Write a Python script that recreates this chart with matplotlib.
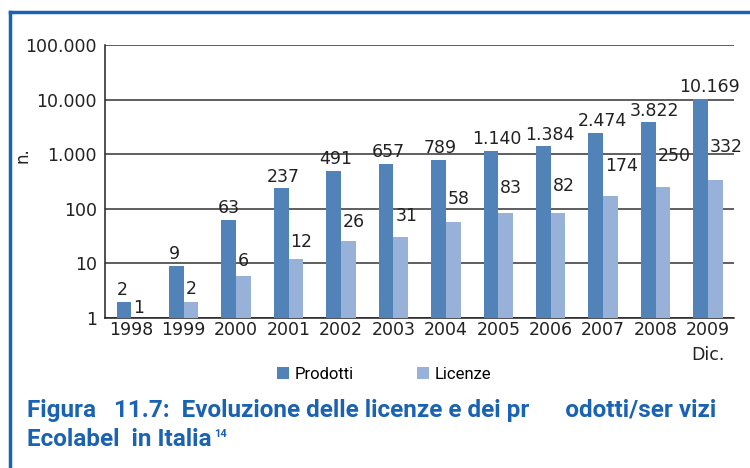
import matplotlib.pyplot as plt
import numpy as np
from matplotlib.lines import Line2D

years = ['1998', '1999', '2000', '2001', '2002', '2003', '2004', '2005',
         '2006', '2007', '2008', '2009\nDic.']
prodotti = [2, 9, 63, 237, 491, 657, 789, 1140, 1384, 2474, 3822, 10169]
licenze = [1, 2, 6, 12, 26, 31, 58, 83, 82, 174, 250, 332]
yticks = [1, 10, 100, 1000, 10000, 100000]
ytick_labels = ['1', '10', '100', '1.000', '10.000', '100.000']

dark = '#5183b8'
light = '#97b1d9'
blue = '#1a62b3'
txt = '#222222'

def fmt(v):
    return f'{v:,}'.replace(',', '.')

fig = plt.figure(figsize=(7.5, 4.68), dpi=100)
ax = fig.add_axes([0.14, 0.3205, 0.839, 0.5835])

x = np.arange(len(years))
w = 0.28
b1 = ax.bar(x - w / 2, prodotti, w, color=dark, zorder=3)
b2 = ax.bar(x + w / 2, licenze, w, color=light, zorder=3)

ax.set_yscale('log')
ax.set_ylim(1, 100000)
ax.set_xlim(-0.5, len(years) - 0.5)
ax.set_yticks(yticks)
ax.set_yticklabels(ytick_labels)
ax.minorticks_off()
ax.yaxis.grid(True, color='#333333', linewidth=1.1, zorder=0)
ax.set_xticks(x)
ax.set_xticklabels(years, linespacing=1.5)
ax.tick_params(axis='both', length=0, labelsize=12.5, colors=txt)
ax.tick_params(axis='x', pad=2)
ax.tick_params(axis='y', pad=6)
for s in ['top', 'right']:
    ax.spines[s].set_visible(False)
for s in ['left', 'bottom']:
    ax.spines[s].set_color(txt)
    ax.spines[s].set_linewidth(1.1)

# value labels: prodotti just above the bar, licenze left-aligned and lifted
for i, (rect, v) in enumerate(zip(b1, prodotti)):
    s = fmt(v)
    ax.annotate(s, (rect.get_x() + rect.get_width() / 2, v),
                xytext=(1.5 * (len(s) - 2), 2), textcoords='offset points',
                ha='center', va='bottom', fontsize=12.5, color=txt)
for i, (rect, v) in enumerate(zip(b2, licenze)):
    ax.annotate(fmt(v), (rect.get_x(), v),
                xytext=(1.5, 1 + 1.5 * i), textcoords='offset points',
                ha='left', va='bottom', fontsize=12.5, color=txt)

fig.text(0.03, 0.668, 'n.', rotation=90, fontsize=12, color=txt,
         ha='center', va='center')

fig.legend(handles=[b1, b2], labels=['Prodotti', 'Licenze'], loc='center',
           bbox_to_anchor=(0.512, 0.2), ncol=2, frameon=False,
           handlelength=0.75, handleheight=0.75, columnspacing=3.8,
           handletextpad=0.3, prop={'family': 'Roboto', 'size': 12})

# caption (justified in the original, hence the odd gaps)
tfont = dict(fontsize=17.5, fontweight='bold', color=blue,
             family=['Roboto', 'DejaVu Sans'], ha='left', va='baseline')
fig.text(27 / 750, 1 - 417 / 468,
         'Figura   11.7:  Evoluzione delle licenze e dei pr'
         '      odotti/ser vizi',
         **tfont)
t2 = fig.text(27 / 750, 1 - 446 / 468, 'Ecolabel  in Italia', **tfont)
ax.annotate('14', xy=(1, 1), xycoords=t2, xytext=(2, -1),
            textcoords='offset points', ha='left', va='top',
            fontsize=8, fontweight='bold', color=blue,
            family=['Roboto', 'DejaVu Sans'], annotation_clip=False)

# blue frame on top and left
fig.add_artist(Line2D([0.013, 1.0], [0.975, 0.975], color=blue, lw=2.5))
fig.add_artist(Line2D([0.013, 0.013], [0.0, 0.975], color=blue, lw=2.5))

fig.savefig('out.png', dpi=100)
